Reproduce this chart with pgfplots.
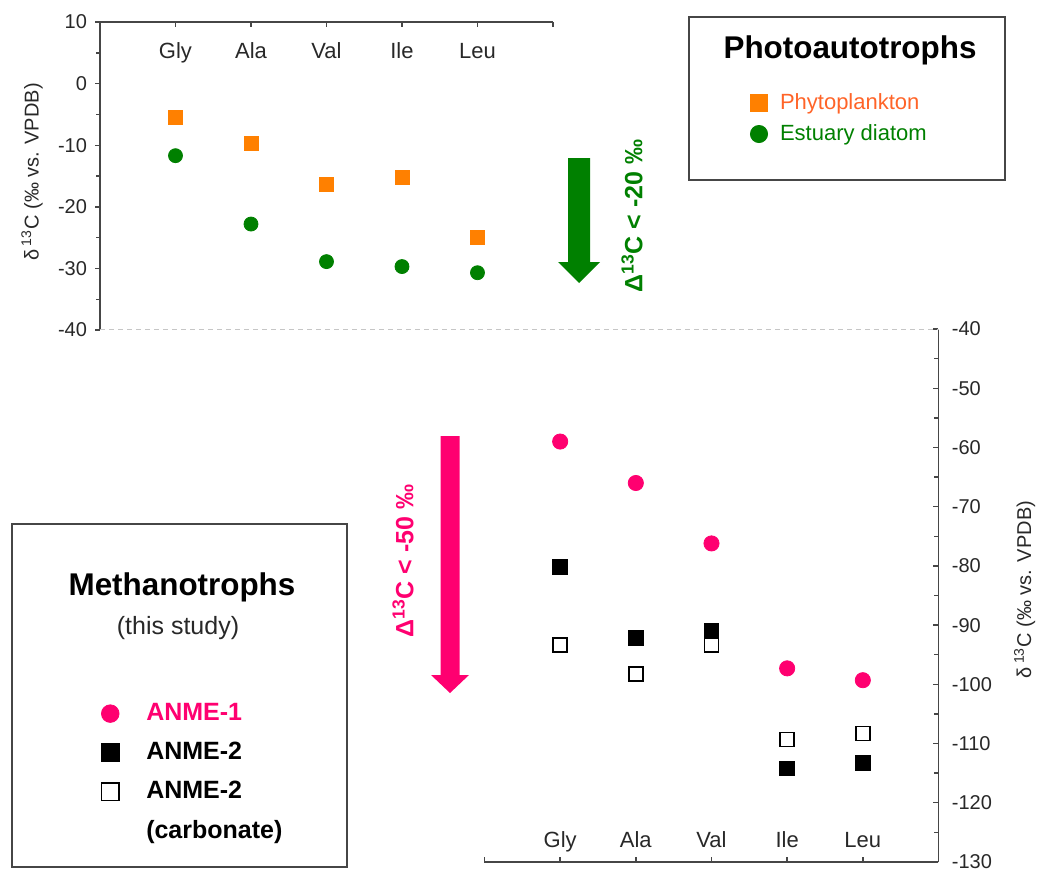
\documentclass[border=0pt]{standalone}
\usepackage{pgfplots}
\pgfplotsset{compat=1.18}
\usepackage{fontspec}
\setmainfont{Liberation Sans}
\definecolor{orangec}{RGB}{255,128,0}
\definecolor{orangetxt}{RGB}{255,100,40}
\definecolor{greenc}{RGB}{0,128,0}
\definecolor{pinkc}{RGB}{255,0,112}
\definecolor{axisc}{RGB}{70,70,70}
\definecolor{txtc}{RGB}{40,40,40}
\begin{document}
\begin{tikzpicture}
% ---------------- top axis: photoautotrophs ----------------
\begin{axis}[
  scale only axis, width=226.5pt, height=154pt,
  at={(50pt,-165pt)}, anchor=south west,
  xmin=-1, xmax=5, ymin=-40, ymax=10,
  axis x line*=top, axis y line*=left,
  axis line style={axisc, line width=0.8pt},
  tick style={axisc, line width=0.7pt},
  tick align=outside, major tick length=2.5pt, minor tick length=2pt,
  every x tick/.append style={yshift=-2.5pt},
  xtick={-1,...,5}, xticklabels={,Gly,Ala,Val,Ile,Leu,},
  xticklabel style={font=\fontsize{11}{13}\selectfont, text=txtc, anchor=base, yshift=-20.5pt},
  ytick={-40,-30,...,10}, minor y tick num=1,
  yticklabel style={font=\fontsize{10}{12}\selectfont, text=txtc, xshift=-0.5pt},
  /pgf/number format/assume math mode=true,
  ylabel={δ\,\textsuperscript{13}C (‰ vs. VPDB)},
  ylabel style={font=\fontsize{10}{12}\selectfont, text=txtc, at={(axis description cs:-0.150,0.513)}, anchor=center},
  clip=false,
  legend style={at={(axis description cs:1.4358,0.7873)}, anchor=north west, draw=none, fill=none,
    inner sep=0pt, outer sep=0pt, row sep=0pt, column sep=6.2pt,
    nodes={inner sep=0pt, minimum height=15.5pt, font=\fontsize{11}{13}\selectfont}},
  legend cell align=left,
  legend image post style={mark size=4.3pt},
]
\addplot[only marks, mark=square*, mark size=3.5pt, color=orangec, fill=orangec]
  coordinates {(0,-5.5) (1,-9.65) (2,-16.4) (3,-15.2) (4,-25.0)};
\addlegendentry{\textcolor{orangetxt}{Phytoplankton}}
\addplot[only marks, mark=*, mark size=3.5pt, color=greenc, fill=greenc]
  coordinates {(0,-11.7) (1,-22.8) (2,-28.9) (3,-29.7) (4,-30.7)};
\addlegendentry{\textcolor{greenc}{Estuary diatom}}
\end{axis}
% ---------------- bottom axis: methanotrophs ----------------
\begin{axis}[
  scale only axis, width=227pt, height=266.5pt,
  at={(242.25pt,-431pt)}, anchor=south west,
  xmin=-1, xmax=5, ymin=-130, ymax=-40,
  axis x line*=bottom, axis y line*=right,
  axis line style={axisc, line width=0.8pt},
  tick style={axisc, line width=0.7pt},
  tick align=inside, major tick length=2.5pt, minor tick length=2pt,
  xtick={-1,...,5}, xticklabels={,Gly,Ala,Val,Ile,Leu,},
  xticklabel style={font=\fontsize{11}{13}\selectfont, text=txtc, anchor=base, yshift=7.5pt},
  ytick={-130,-120,...,-40}, minor y tick num=1,
  yticklabel style={font=\fontsize{10}{12}\selectfont, text=txtc, xshift=3.2pt},
  /pgf/number format/assume math mode=true,
  ylabel={δ\,\textsuperscript{13}C (‰ vs. VPDB)},
  ylabel style={font=\fontsize{10}{12}\selectfont, text=txtc, at={(axis description cs:1.19,0.511)}, anchor=center},
  clip=false,
  legend style={at={(axis description cs:-0.8619,0.315)}, anchor=north west, draw=none, fill=none,
    inner sep=0pt, outer sep=0pt, row sep=0pt, column sep=13.6pt,
    nodes={inner sep=0pt, minimum height=19.5pt, font=\bfseries\fontsize{12.5}{15}\selectfont}},
  legend cell align=left,
  legend image post style={mark size=4.4pt},
]
\addplot[only marks, mark=*, mark size=3.8pt, color=pinkc, fill=pinkc]
  coordinates {(0,-59.0) (1,-66.0) (2,-76.2) (3,-97.3) (4,-99.3)};
\addlegendentry{\textcolor{pinkc}{ANME-1}}
\addplot[only marks, mark=square*, mark size=3.7pt, color=black, fill=black]
  coordinates {(0,-80.2) (1,-92.1) (2,-90.9) (3,-114.2) (4,-113.3)};
\addlegendentry{ANME-2}
\addplot[only marks, mark=square*, mark size=3.5pt, color=black, fill=white, line width=0.9pt]
  coordinates {(0,-93.3) (1,-98.2) (2,-93.4) (3,-109.3) (4,-108.3)};
\addlegendentry{ANME-2}
\addlegendimage{empty legend}
\addlegendentry{(carbonate)}
\end{axis}
% dashed separator
\draw[gray!45, dash pattern=on 2.5pt off 2pt, line width=0.7pt] (50pt,-164.75pt) -- (469.25pt,-164.75pt);
% legend boxes and titles
\draw[axisc, line width=0.8pt] (344.5pt,-8.5pt) rectangle (502.5pt,-90pt);
\node[font=\bfseries\fontsize{15.7}{18}\selectfont] at (425pt,-25pt) {Photoautotrophs};
\draw[axisc, line width=0.8pt] (6pt,-262pt) rectangle (173.5pt,-433.5pt);
\node[font=\bfseries\fontsize{15.7}{18}\selectfont] at (91pt,-293.5pt) {Methanotrophs};
\node[font=\fontsize{12.5}{15}\selectfont, text=txtc] at (89pt,-314pt) {(this study)};
% arrows
\fill[greenc] (284pt,-79pt) -- (295pt,-79pt) -- (295pt,-131pt) -- (300pt,-131pt) -- (289.5pt,-141.5pt) -- (279pt,-131pt) -- (284pt,-131pt) -- cycle;
\node[rotate=90, text=greenc, font=\bfseries\fontsize{12.5}{15}\selectfont] at (316pt,-108pt) {Δ\textsuperscript{13}C < -20 ‰};
\fill[pinkc] (220.25pt,-218pt) -- (229.75pt,-218pt) -- (229.75pt,-337.5pt) -- (234.5pt,-337.5pt) -- (225pt,-346.5pt) -- (215.5pt,-337.5pt) -- (220.25pt,-337.5pt) -- cycle;
\node[rotate=90, text=pinkc, font=\bfseries\fontsize{12.5}{15}\selectfont] at (201.5pt,-280.5pt) {Δ\textsuperscript{13}C < -50 ‰};
\pgfresetboundingbox
\useasboundingbox (0pt,0pt) rectangle (519.5pt,-436.5pt);
\end{tikzpicture}
\end{document}
